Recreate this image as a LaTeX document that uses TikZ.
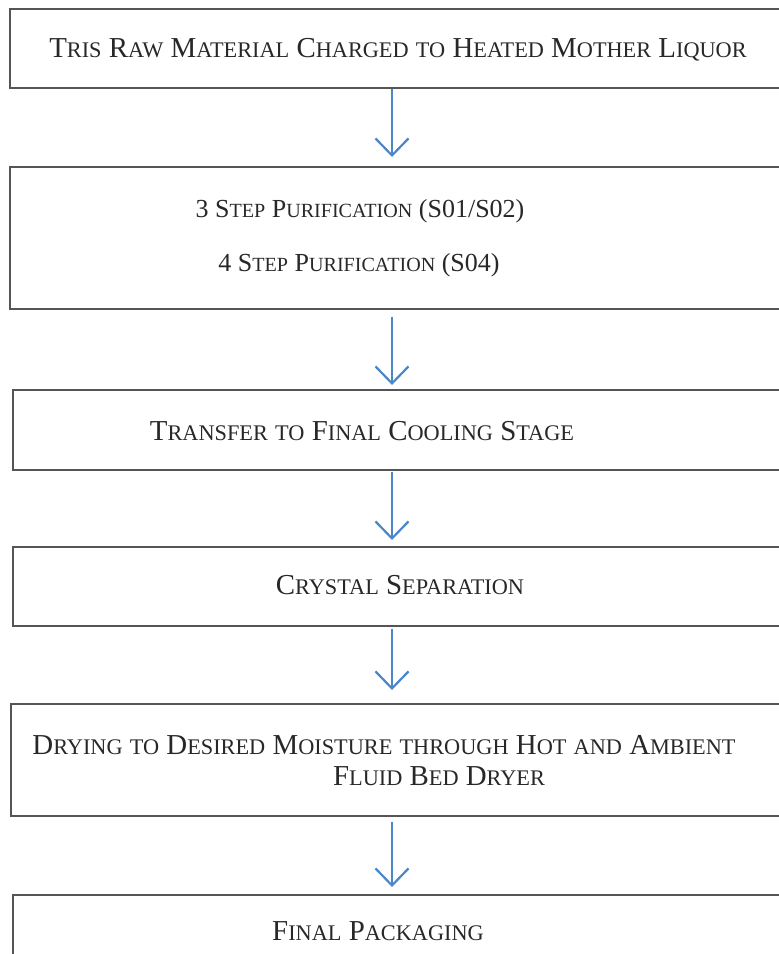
\documentclass[tikz,border=0pt]{standalone}
\usepackage{fontspec}
\setmainfont{Liberation Serif}
\usetikzlibrary{arrows.meta}
\definecolor{arrblue}{RGB}{74,134,200}
\definecolor{boxgray}{RGB}{85,85,85}
\definecolor{txtgray}{RGB}{40,40,40}
\newcommand\Sm[1]{{\fontsize{22.3}{23}\selectfont #1}}
\newcommand\Smb[1]{{\fontsize{20.1}{21}\selectfont #1}}
\begin{document}
\begin{tikzpicture}[x=1pt,y=-1pt,
  flowbox/.style={draw=boxgray,line width=1.6pt,rectangle,inner sep=0pt,anchor=north west},
  lbl/.style={font=\fontsize{28.9}{30}\selectfont,text=txtgray,inner sep=0pt,anchor=center},
  lblb/.style={lbl,font=\fontsize{26}{27}\selectfont},
  arr/.style={draw=arrblue,line width=2.2pt,-{Straight Barb[length=17pt,width=33pt,line width=2.2pt]}}]
\useasboundingbox (0,0) rectangle (779,954);
\clip (0,0) rectangle (779,954);
\fill[white] (0,0) rectangle (779,954);
% boxes
\node[flowbox,minimum width=790pt,minimum height=79pt] (b1) at (9,8) {};
\node[flowbox,minimum width=790pt,minimum height=142pt] (b2) at (9,166) {};
\node[flowbox,minimum width=790pt,minimum height=80pt] (b3) at (12,389) {};
\node[flowbox,minimum width=790pt,minimum height=79pt] (b4) at (12,546) {};
\node[flowbox,minimum width=790pt,minimum height=112pt] (b5) at (10,703) {};
\node[flowbox,minimum width=790pt,minimum height=100pt] (b6) at (12,894) {};
% labels
\node[lbl] (t1) at (398,50) {T\Sm{RIS} R\Sm{AW} M\Sm{ATERIAL} C\Sm{HARGED} \Sm{TO} H\Sm{EATED} M\Sm{OTHER} L\Sm{IQUOR}};
\node[lblb] (t2a) at (360,211) {3 S\Smb{TEP} P\Smb{URIFICATION} (S01/S02)};
\node[lblb] (t2b) at (359,265) {4 S\Smb{TEP} P\Smb{URIFICATION} (S04)};
\node[lbl] (t3) at (362,431) {T\Sm{RANSFER} \Sm{TO} F\Sm{INAL} C\Sm{OOLING} S\Sm{TAGE}};
\node[lbl] (t4) at (400,585) {C\Sm{RYSTAL} S\Sm{EPARATION}};
\node[lbl] (t5a) at (384,745) {D\Sm{RYING} \Sm{TO} D\Sm{ESIRED} M\Sm{OISTURE} \Sm{THROUGH} H\Sm{OT} \Sm{AND} A\Sm{MBIENT}};
\node[lbl] (t5b) at (439,776) {F\Sm{LUID} B\Sm{ED} D\Sm{RYER}};
\node[lbl] (t6) at (378,931) {F\Sm{INAL} P\Sm{ACKAGING}};
% arrows
\coordinate (ax) at (392,0);
\draw[arr,shorten >=9pt] (b1.south -| ax) -- (b2.north -| ax);
\draw[arr,shorten <=7pt,shorten >=4pt] (b2.south -| ax) -- (b3.north -| ax);
\draw[arr,shorten <=1pt,shorten >=6pt] (b3.south -| ax) -- (b4.north -| ax);
\draw[arr,shorten <=2pt,shorten >=13pt] (b4.south -| ax) -- (b5.north -| ax);
\draw[arr,shorten <=5pt,shorten >=7pt] (b5.south -| ax) -- (b6.north -| ax);
\end{tikzpicture}
\end{document}
